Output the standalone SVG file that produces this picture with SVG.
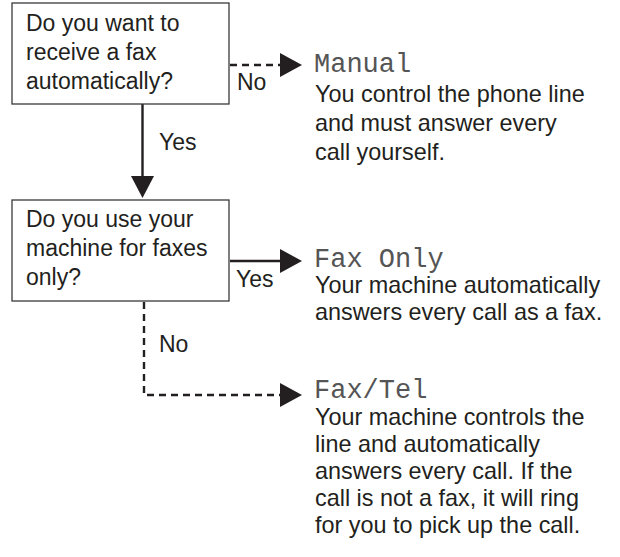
<svg xmlns="http://www.w3.org/2000/svg" width="620" height="557" viewBox="0 0 620 557">
<defs>
<style>
.box{fill:#fff;stroke:#3a3a3a;stroke-width:1.3}
.t{font-family:"Liberation Sans",Arial,sans-serif;font-size:23px;fill:#231f20}
.d{font-family:"Liberation Sans",Arial,sans-serif;font-size:23.4px;fill:#231f20}
.lcd{font-family:"Liberation Mono","DejaVu Sans Mono",monospace;font-size:27px;fill:#555}
.ln{fill:none;stroke:#231f20;stroke-width:2.4}
.dash{stroke-dasharray:7 5}
.ah{fill:#231f20}
</style>
</defs>
<rect width="620" height="557" fill="#fff"/>
<g id="connectors">
<line class="ln" x1="142.5" y1="104" x2="142.5" y2="178"/>
<polygon class="ah" points="131,176 154,176 142.5,198"/>
<text class="t" x="159" y="150">Yes</text>
<line class="ln dash" x1="230" y1="65" x2="281" y2="65"/>
<polygon class="ah" points="280,53 280,77 302,65"/>
<text class="t" x="237" y="90">No</text>
<line class="ln" x1="230" y1="261" x2="281" y2="261"/>
<polygon class="ah" points="280,249 280,273 302,261"/>
<text class="t" x="236" y="287">Yes</text>
<polyline class="ln dash" points="144,302 144,395 281,395"/>
<polygon class="ah" points="280,383 280,407 302,395"/>
<text class="t" x="159" y="352">No</text>
</g>
<g id="q1">
<rect class="box" x="12" y="3" width="217" height="101"/>
<text class="t" x="26" y="31">Do you want to</text>
<text class="t" x="26" y="60">receive a fax</text>
<text class="t" x="26" y="89">automatically?</text>
</g>
<g id="q2">
<rect class="box" x="12" y="200" width="217" height="101"/>
<text class="t" x="26" y="227">Do you use your</text>
<text class="t" x="26" y="256">machine for faxes</text>
<text class="t" x="26" y="285">only?</text>
</g>
<g id="manual">
<text class="lcd" x="314" y="72">Manual</text>
<text class="d" x="315" y="102">You control the phone line</text>
<text class="d" x="315" y="131">and must answer every</text>
<text class="d" x="315" y="160">call yourself.</text>
</g>
<g id="faxonly">
<text class="lcd" x="314" y="267">Fax Only</text>
<text class="d" x="315" y="293">Your machine automatically</text>
<text class="d" x="315" y="320">answers every call as a fax.</text>
</g>
<g id="faxtel">
<text class="lcd" x="314" y="398">Fax/Tel</text>
<text class="d" x="315" y="425">Your machine controls the</text>
<text class="d" x="315" y="452">line and automatically</text>
<text class="d" x="315" y="479">answers every call. If the</text>
<text class="d" x="315" y="506">call is not a fax, it will ring</text>
<text class="d" x="315" y="533">for you to pick up the call.</text>
</g>
</svg>
